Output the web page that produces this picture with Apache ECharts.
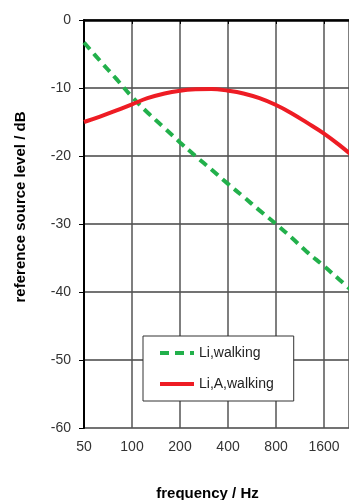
<!DOCTYPE html>
<html>
<head>
<meta charset="utf-8">
<script src="https://cdn.jsdelivr.net/npm/echarts@6/dist/echarts.min.js"></script>
<style>
html,body{margin:0;padding:0;background:#fff;}
#chart{width:349px;height:500px;}
</style>
</head>
<body>
<div id="chart"></div>
<script>
// 1/3-octave frequencies (Hz)
var frequencies = [50, 63, 80, 100, 125, 160, 200, 250, 315, 400, 500, 630, 800, 1000, 1250, 1600, 2000, 2500];
// Li,walking (dashed green)
var liWalking = [-3.3, -6.0, -8.7, -11.3, -13.6, -15.9, -18.0, -20.0, -22.0, -24.1, -26.0, -28.0, -30.0, -32.0, -34.1, -36.2, -38.2, -40.2];
// Li,A,walking (red)
var liAWalking = [-15.0, -14.2, -13.3, -12.4, -11.5, -10.8, -10.4, -10.2, -10.15, -10.4, -10.8, -11.5, -12.5, -13.7, -15.1, -16.7, -18.4, -20.3];
// x tick labels (octaves)
var xTickLabels = ['50', '100', '200', '400', '800', '1600'];
var seriesNames = ['Li,walking', 'Li,A,walking'];

var baseFreq = 50;
function oct(f) { return Math.log(f / baseFreq) / Math.LN2; }
function toPairs(vals) { return frequencies.map(function (f, i) { return [oct(f), vals[i]]; }); }

var chart = echarts.init(document.getElementById('chart'));
chart.setOption({
  animation: false,
  grid: { left: 84, top: 20, right: 0, bottom: 72, containLabel: false, outerBoundsMode: 'none' },
  legend: {
    orient: 'vertical',
    left: 143, top: 336,
    padding: [10, 20, 10, 15],
    itemGap: 17,
    itemWidth: 34, itemHeight: 14,
    backgroundColor: '#fff',
    borderColor: '#333', borderWidth: 1,
    itemStyle: { opacity: 0 },
    lineStyle: { width: 4 },
    textStyle: { fontFamily: 'Liberation Sans, Arial, sans-serif', fontSize: 14, color: '#222' },
    data: seriesNames
  },
  xAxis: {
    type: 'value',
    min: 0, max: 5.52, interval: 1,
    name: 'frequency / Hz',
    nameLocation: 'middle', nameGap: 58,
    nameTextStyle: { fontFamily: 'Liberation Sans, Arial, sans-serif', fontSize: 15, fontWeight: 'bold', color: '#000', padding: [0, 18, 0, 0] },
    axisLine: { lineStyle: { color: '#000', width: 2.5 } },
    axisTick: { show: true, length: 4, lineStyle: { color: '#000', width: 1 } },
    axisLabel: {
      fontFamily: 'Liberation Sans, Arial, sans-serif', fontSize: 14, color: '#333', margin: 12,
      showMaxLabel: false,
      formatter: function (v) { var i = Math.round(v); return xTickLabels[i] !== undefined && Math.abs(v - i) < 1e-6 ? xTickLabels[i] : ''; }
    },
    splitLine: { show: true, lineStyle: { color: '#555', width: 1.5 } }
  },
  yAxis: {
    type: 'value',
    min: -60, max: 0, interval: 10,
    name: 'reference source level / dB',
    nameLocation: 'middle', nameGap: 56, nameRotate: 90,
    nameTextStyle: { fontFamily: 'Liberation Sans, Arial, sans-serif', fontSize: 15, fontWeight: 'bold', color: '#000', padding: [0, 0, 0, 34] },
    axisLine: { show: true, lineStyle: { color: '#000', width: 2 } },
    axisTick: { show: true, length: 5, lineStyle: { color: '#000', width: 1 } },
    axisLabel: { fontFamily: 'Liberation Sans, Arial, sans-serif', fontSize: 14, color: '#333', margin: 13 },
    splitLine: { show: true, lineStyle: { color: '#444', width: 1.5 } }
  },
  series: [
    {
      name: seriesNames[0], type: 'line', data: toPairs(liWalking),
      symbol: 'none', smooth: 0.4, clip: true, z: 3,
      lineStyle: { color: '#22b04b', width: 4, type: [9, 6] },
      itemStyle: { color: '#22b04b' }
    },
    {
      name: seriesNames[1], type: 'line', data: toPairs(liAWalking),
      symbol: 'none', smooth: 0.4, clip: true, z: 4,
      lineStyle: { color: '#ee1c24', width: 4 },
      itemStyle: { color: '#ee1c24' }
    }
  ]
});
</script>
</body>
</html>
